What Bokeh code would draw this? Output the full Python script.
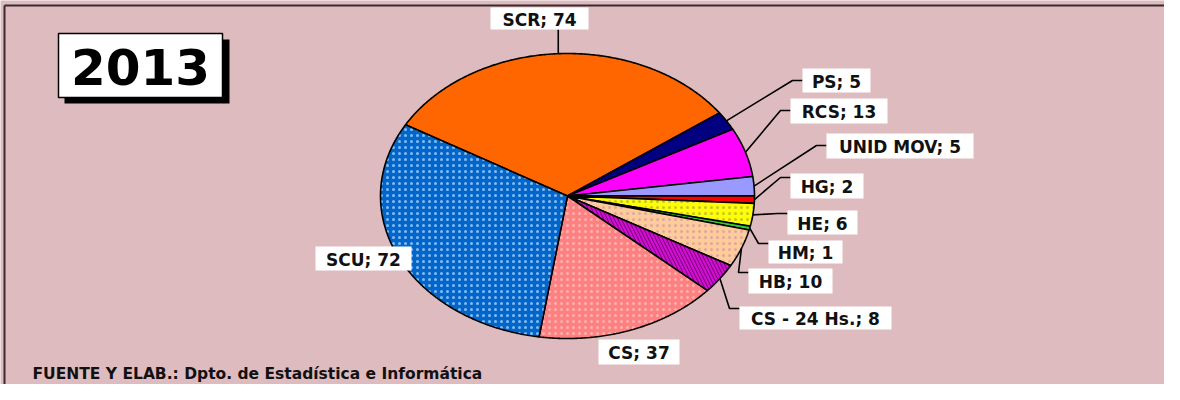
import numpy as np
from bokeh.plotting import figure
from bokeh.models import Range1d, ColumnDataSource
from bokeh.embed import file_html
from bokeh.resources import INLINE
from bokeh.core.properties import value

# ---------------- data ----------------
categories = ["SCR", "PS", "RCS", "UNID MOV", "HG", "HE", "HM", "HB",
              "CS - 24 Hs.", "CS", "SCU"]
counts = [74, 5, 13, 5, 2, 6, 1, 10, 8, 37, 72]
year_title = "2013"
source_note = "FUENTE Y ELAB.:  Dpto. de Estadística e Informática"

# ---------------- styles ----------------
fill_colors = ["#FF6600", "#000080", "#FF00FF", "#9999FF", "#FF0000", "#FFFF00",
               "#33CC33", "#FFCC99", "#7A007A", "#FF8080", "#0066CC"]
hatch_patterns = [" ", " ", " ", " ", " ", "dot", " ", "dot",
                  "left_diagonal_line", "dot", "dot"]
hatch_colors = ["white", "white", "white", "white", "white", "#9A9A60",
                "white", "#C890A8", "#D010D0", "#FFD0D0", "#E8F0FF"]
hatch_scales = [6, 6, 6, 6, 6, 6, 6, 6, 7, 6, 6]
hatch_weights = [1, 1, 1, 1, 1, 0.35, 1, 0.35, 2.2, 0.35, 0.35]
hatch_alphas = [1, 1, 1, 1, 1, 0.6, 1, 0.6, 1, 0.6, 0.6]

BG = "#DEBBBF"
FONT = "DejaVu Sans"

# ---------------- layout (pixel coordinates) ----------------
CX, CY, RX, RY = 567.0, 195.5, 187.0, 142.5
START_DEG = 150.0
# label boxes: left, top, right, bottom
box_left = [490, 802, 790, 826, 790, 787, 768, 748, 739, 598, 315]
box_top = [7, 68, 98, 133, 173, 210, 240, 268, 306, 339, 246]
box_right = [588, 870, 887, 973, 863, 857, 842, 832, 891, 679, 411]
box_bottom = [29, 92, 123, 158, 198, 234, 263, 293, 329, 364, 270]
leader_kind = ["up", "elbow", "elbow", "elbow", "elbow", "elbow", "elbow",
               "elbow", "elbow", "none", "none"]
leader_attach_y = [0, 80, 110, 145, 177, 213, 243, 272, 308, 0, 0]

W, H = 1164, 384
p = figure(width=W, height=H, output_backend="svg", toolbar_location=None,
           x_range=Range1d(0, W), y_range=Range1d(H, 0),
           min_border=0)
p.axis.visible = False
p.grid.visible = False
p.outline_line_color = None
p.background_fill_color = BG
p.border_fill_color = BG

# frame lines (top and left)
p.multi_line([[4, 4], [4, W]], [[H, 5], [5, 5]], line_color="#3A2A2C",
             line_width=2)

# ---------------- pie as elliptical patches ----------------
vals = np.array(counts, dtype=float)
spans = vals / vals.sum() * 360.0
ends = START_DEG - np.cumsum(spans)
starts = ends + spans
xs, ys, mid_x, mid_y = [], [], [], []
for a0, a1 in zip(starts, ends):
    n = max(3, int(abs(a0 - a1) * 2) + 2)
    th = np.radians(np.linspace(a0, a1, n))
    xs.append(list(np.concatenate([[CX], CX + RX * np.cos(th), [CX]])))
    ys.append(list(np.concatenate([[CY], CY - RY * np.sin(th), [CY]])))
    tm = np.radians((a0 + a1) / 2)
    mid_x.append(CX + RX * np.cos(tm))
    mid_y.append(CY - RY * np.sin(tm))

src = ColumnDataSource(dict(xs=xs, ys=ys, fill=fill_colors, hp=hatch_patterns,
                            hc=hatch_colors, hs=hatch_scales, hw=hatch_weights,
                            ha=hatch_alphas))
p.patches("xs", "ys", source=src, fill_color="fill", line_color="black",
          line_width=1.6, hatch_pattern="hp", hatch_color="hc",
          hatch_scale="hs", hatch_weight="hw", hatch_alpha="ha")

# ---------------- leader lines ----------------
lx, ly = [], []
for i in range(len(categories)):
    if leader_kind[i] == "up":
        lx.append([mid_x[i], mid_x[i]])
        ly.append([mid_y[i], box_bottom[i]])
    elif leader_kind[i] == "elbow":
        ex = box_left[i] - 10
        lx.append([mid_x[i], ex, box_left[i]])
        ly.append([mid_y[i], leader_attach_y[i], leader_attach_y[i]])
p.multi_line(lx, ly, line_color="black", line_width=1.6)

# ---------------- label boxes & texts ----------------
labels = [f"{c}; {v}" for c, v in zip(categories, counts)]
lsrc = ColumnDataSource(dict(l=box_left, t=box_top, r=box_right, b=box_bottom,
                             x=[(a + b) / 2 for a, b in zip(box_left, box_right)],
                             y=[(a + b) / 2 + 1 for a, b in zip(box_top, box_bottom)],
                             txt=labels))
p.quad(left="l", right="r", top="t", bottom="b", source=lsrc,
       fill_color="white", line_color=None)
p.text(x="x", y="y", text="txt", source=lsrc, text_font=value(FONT),
       text_font_style="bold", text_font_size="17px", text_color="#111111",
       text_align="center", text_baseline="middle")

# ---------------- title box ----------------
p.quad(left=[64], right=[229], top=[39], bottom=[103], fill_color="black",
       line_color=None)
p.quad(left=[58], right=[222], top=[33], bottom=[97], fill_color="white",
       line_color="black", line_width=1.5)
p.text(x=[140], y=[66], text=[year_title], text_font=value(FONT),
       text_font_style="bold", text_font_size="50px", text_color="black",
       text_align="center", text_baseline="middle")

# ---------------- source note ----------------
p.text(x=[32], y=[373], text=[source_note], text_font=value(FONT),
       text_font_style="bold", text_font_size="15.5px", text_color="#111111",
       text_align="left", text_baseline="middle")

open("out.html", "w").write(file_html(p, INLINE))
